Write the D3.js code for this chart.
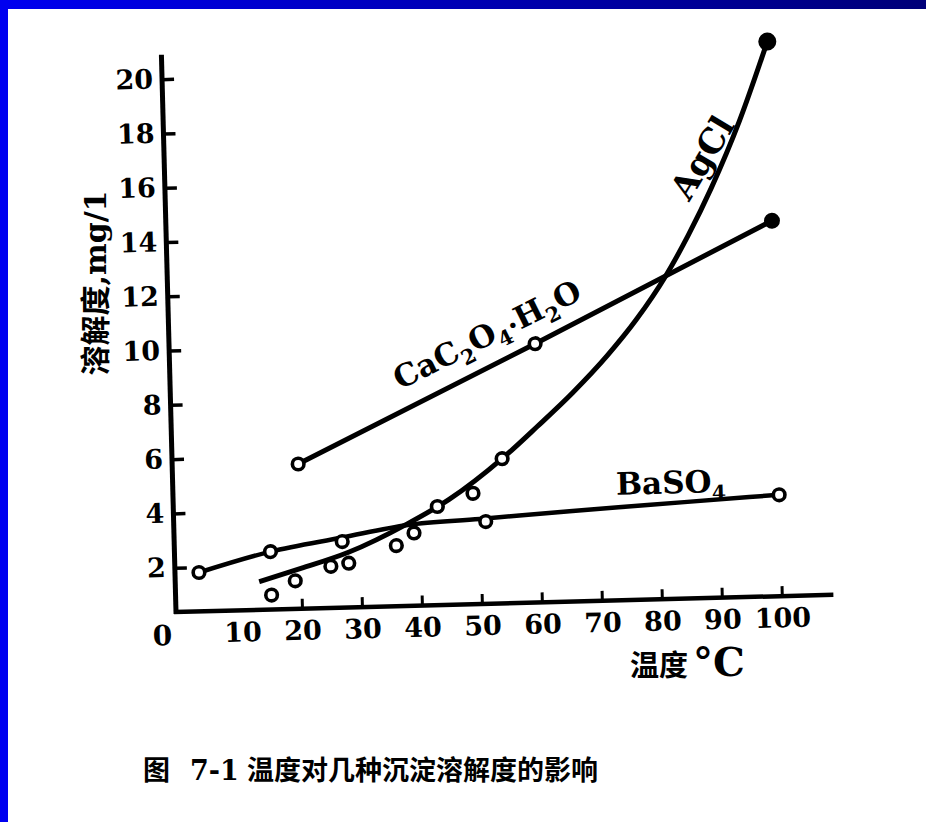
<!DOCTYPE html>
<html>
<head>
<meta charset="utf-8">
<script src="https://cdn.jsdelivr.net/npm/d3@7"></script>
<style>
  html, body { margin: 0; padding: 0; background: #fff; }
  svg { display: block; }
</style>
</head>
<body>
<div id="chart"><svg></svg></div>
<script>
// values: temperature (°C) vs solubility (mg/l)
const xTicks = [10, 20, 30, 40, 50, 60, 70, 80, 90, 100]
const yTicks = [2, 4, 6, 8, 10, 12, 14, 16, 18, 20]

const cacT = [20, 60, 100]
const cacS = [5.7, 9.9, 14.2]

const agclLineT = [13, 20, 28, 38, 45, 54, 60, 66, 72, 77, 82, 86, 90, 95, 100]
const agclLineS = [1.4, 1.85, 2.4, 3.4, 4.25, 5.7, 6.85, 8.05, 9.4, 10.7, 12.25, 13.75, 15.45, 17.9, 20.8]
const agclPtT = [15, 19, 25, 28, 36, 39, 43, 49, 54]
const agclPtS = [0.9, 1.4, 1.9, 2.0, 2.6, 3.05, 4.0, 4.45, 5.7]

const baso4LineT = [3, 15, 27, 38, 50, 65, 78, 95, 100]
const baso4LineS = [1.8, 2.5, 2.95, 3.35, 3.5, 3.7, 3.85, 4.05, 4.1]
const baso4PtT = [3, 15, 27, 51, 100]
const baso4PtS = [1.8, 2.5, 2.8, 3.4, 4.1]

const W = 926, H = 822
const ox = 176, oy = 612   // axis corner
const tilt = -1.5          // the scan is slightly turned

const latin = 'DejaVu Serif'
const cjk = '"Noto Sans CJK SC"'

const svg = d3.select('#chart').select('svg')
  .attr('width', W)
  .attr('height', H)

// slide frame
const grad = svg.append('defs').append('linearGradient').attr('id', 'topBand')
grad.append('stop').attr('offset', '0%').attr('stop-color', '#0000f0')
grad.append('stop').attr('offset', '100%').attr('stop-color', '#000078')
svg.append('rect').attr('width', W).attr('height', H).attr('fill', '#fff')
svg.append('rect').attr('width', W).attr('height', 9).attr('fill', 'url(#topBand)')
svg.append('rect').attr('width', 8).attr('height', H).attr('fill', '#0000f0')

const x = d3.scaleLinear().domain([0, 100]).range([ox + 6, ox + 606])
const y = d3.scaleLinear().domain([0, 20]).range([oy + 10, oy - 533])

const g = svg.append('g').attr('transform', `rotate(${tilt},${ox},${oy})`)

// axes
const yAxis = d3.axisLeft(y).tickValues(yTicks).tickSize(-12).tickPadding(9)
g.append('g')
  .attr('transform', `translate(${ox},0)`)
  .call(yAxis)
  .call(s => s.select('.domain').remove())
  .attr('font-family', latin).attr('font-weight', 'bold').attr('font-size', 27)
  .call(s => s.selectAll('.tick line').attr('stroke', '#000').attr('stroke-width', 3.5))
  .call(s => s.selectAll('.tick text').attr('fill', '#000'))

const xAxis = d3.axisBottom(x).tickValues(xTicks).tickSize(-10).tickPadding(12)
g.append('g')
  .attr('transform', `translate(0,${oy})`)
  .call(xAxis)
  .call(s => s.select('.domain').remove())
  .attr('font-family', latin).attr('font-weight', 'bold').attr('font-size', 27)
  .call(s => s.selectAll('.tick line').attr('stroke', '#000').attr('stroke-width', 3))
  .call(s => s.selectAll('.tick').filter(d => d === 10).select('line').remove())
  .call(s => s.selectAll('.tick text').attr('fill', '#000'))

g.append('line')
  .attr('x1', ox).attr('x2', ox)
  .attr('y1', oy + 2).attr('y2', y(20.9))
  .attr('stroke', '#000').attr('stroke-width', 5)
g.append('line')
  .attr('x1', ox - 2).attr('x2', x(108.6))
  .attr('y1', oy).attr('y2', oy)
  .attr('stroke', '#000').attr('stroke-width', 4.5)

g.append('text')
  .attr('x', x(0) - 20).attr('y', oy + 33)
  .attr('text-anchor', 'middle')
  .attr('font-family', latin).attr('font-weight', 'bold').attr('font-size', 28)
  .text('0')

// curves
const line = d3.line().x(d => x(d[0])).y(d => y(d[1]))

g.append('path')
  .attr('d', line(d3.zip(cacT, cacS)))
  .attr('fill', 'none').attr('stroke', '#000').attr('stroke-width', 5)

g.append('path')
  .attr('d', line.curve(d3.curveMonotoneX)(d3.zip(agclLineT, agclLineS)))
  .attr('fill', 'none').attr('stroke', '#000').attr('stroke-width', 5)

g.append('path')
  .attr('d', line.curve(d3.curveMonotoneX)(d3.zip(baso4LineT, baso4LineS)))
  .attr('fill', 'none').attr('stroke', '#000').attr('stroke-width', 4.5)

// points
const openPts = d3.zip(cacT.slice(0, 2), cacS.slice(0, 2))
  .concat(d3.zip(agclPtT, agclPtS))
  .concat(d3.zip(baso4PtT, baso4PtS))

g.selectAll('.pt').data(openPts).enter()
  .append('circle').attr('class', 'pt')
  .attr('cx', d => x(d[0])).attr('cy', d => y(d[1]))
  .attr('r', 5.8)
  .attr('fill', '#fff').attr('stroke', '#000').attr('stroke-width', 3.6)

const endPts = [[cacT[2], cacS[2], 8], [agclLineT[agclLineT.length - 1], agclLineS[agclLineS.length - 1], 9]]
g.selectAll('.end').data(endPts).enter()
  .append('circle').attr('class', 'end')
  .attr('cx', d => x(d[0])).attr('cy', d => y(d[1]))
  .attr('r', d => d[2])
  .attr('fill', '#000')

// curve labels
function formula(px, py, angle, size, parts) {
  const t = g.append('text')
    .attr('transform', `translate(${x(px)},${y(py)}) rotate(${angle})`)
    .attr('y', size * 0.36)
    .attr('text-anchor', 'middle')
    .attr('font-family', latin).attr('font-weight', 'bold').attr('font-size', size)
  let shift = 0
  parts.forEach(p => {
    const sp = t.append('tspan').text(p[0])
    const want = p[1] === 1 ? size * 0.25 : p[1] === 2 ? -size * 0.05 : 0
    if (want !== shift) { sp.attr('dy', want - shift); shift = want }
    if (p[1] === 1) sp.attr('font-size', size * 0.66)
    if (p[1] === 2) sp.attr('font-size', size * 0.5)
  })
}

formula(52, 10.3, -25, 31, [['CaC'], ['2', 1], ['O'], ['4', 1], ['\u2022', 2], ['H'], ['2', 1], ['O']])
formula(88.6, 16.6, -57.5, 34, [['AgCl']])
formula(82, 4.67, 0, 31, [['BaSO'], ['4', 1]])

// axis titles and caption
const yTitle = svg.append('text')
  .attr('transform', 'translate(106,283) rotate(-90)')
  .attr('text-anchor', 'middle')
  .attr('font-size', 30).attr('font-weight', 'bold')
yTitle.append('tspan').attr('font-family', cjk).text('溶解度')
yTitle.append('tspan').attr('font-family', latin).text(',mg/1')

const xTitle = svg.append('text')
  .attr('x', 630).attr('y', 676)
  .attr('font-weight', 'bold')
xTitle.append('tspan').attr('font-family', cjk).attr('font-size', 29).text('温度')
xTitle.append('tspan').attr('font-family', latin).attr('font-size', 40).attr('dx', 5).text('°C')

const cap = svg.append('text').attr('y', 780).attr('font-weight', 'bold').attr('font-size', 27)
cap.append('tspan').attr('x', 143).attr('font-family', cjk).text('图')
cap.append('tspan').attr('x', 190).attr('font-family', latin).text('7-1')
cap.append('tspan').attr('x', 247).attr('font-family', cjk).text('温度对几种沉淀溶解度的影响')
</script>
</body>
</html>
